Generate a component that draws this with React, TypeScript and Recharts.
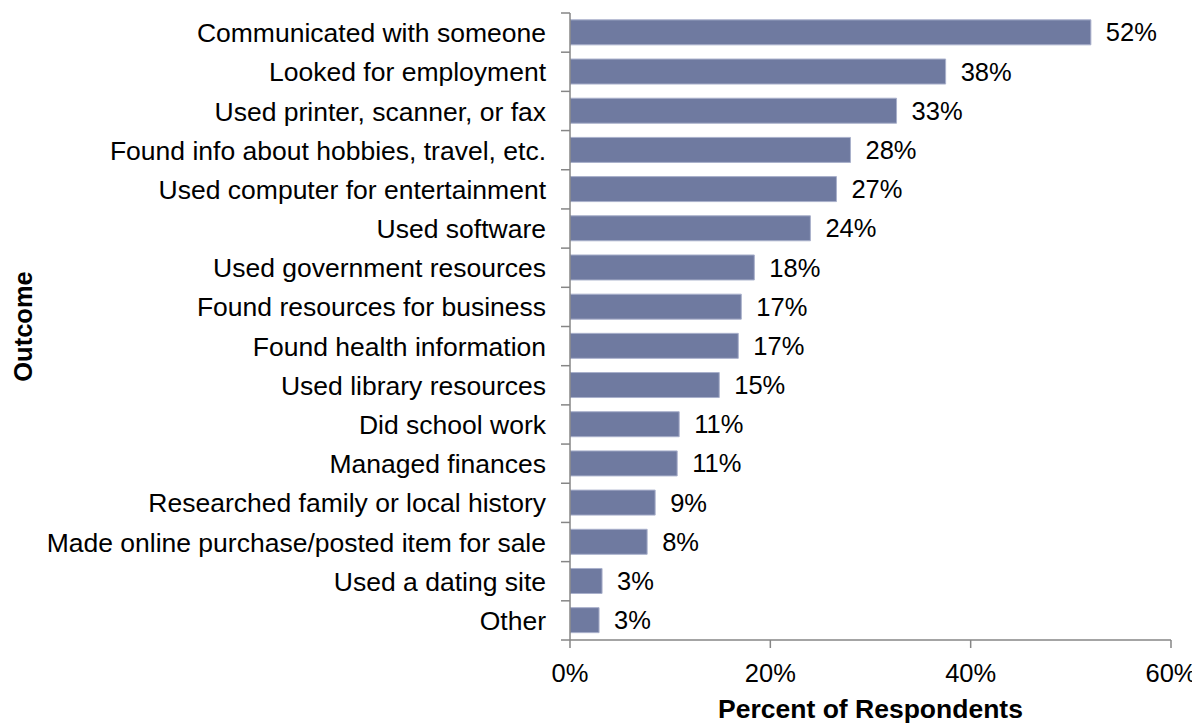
import React from 'react';
import { BarChart, Bar, XAxis, YAxis, LabelList, Label } from 'recharts';

const categories = [
  'Communicated with someone',
  'Looked for employment',
  'Used printer, scanner, or fax',
  'Found info about hobbies, travel, etc.',
  'Used computer for entertainment',
  'Used software',
  'Used government resources',
  'Found resources for business',
  'Found health information',
  'Used library resources',
  'Did school work',
  'Managed finances',
  'Researched family or local history',
  'Made online purchase/posted item for sale',
  'Used a dating site',
  'Other',
];

const percents = [52.0, 37.5, 32.6, 28.0, 26.6, 24.0, 18.4, 17.1, 16.8, 14.9, 10.9, 10.7, 8.5, 7.7, 3.2, 2.9];
const valueLabels = ['52%', '38%', '33%', '28%', '27%', '24%', '18%', '17%', '17%', '15%', '11%', '11%', '9%', '8%', '3%', '3%'];
const xTicks = [0, 20, 40, 60];

const data = categories.map((name, i) => ({ name, value: percents[i], label: valueLabels[i] }));

const FONT = '"Liberation Sans", Arial, sans-serif';
const AXIS = '#868686';
const TICK_SIZE = 9;
const TICK_MARGIN = 15;

const CategoryTick = (props: any) => {
  const { x, y, payload, index, visibleTicksCount } = props;
  const half = payload.offset || 0;
  const lx1 = x + TICK_MARGIN;
  const lx2 = x + TICK_MARGIN + TICK_SIZE;
  return (
    <g>
      <line x1={lx1} x2={lx2} y1={y - half} y2={y - half} stroke={AXIS} strokeWidth={1.5} />
      {index === visibleTicksCount - 1 && (
        <line x1={lx1} x2={lx2} y1={y + half} y2={y + half} stroke={AXIS} strokeWidth={1.5} />
      )}
      <text x={x} y={y} dy="0.36em" textAnchor="end" fill="#000" fontSize={26.5} fontFamily={FONT}>
        {payload.value}
      </text>
    </g>
  );
};

export default function App() {
  return (
    <div style={{ width: 1192, height: 717, background: '#fff' }}>
      <BarChart
        width={1192}
        height={717}
        data={data}
        layout="vertical"
        margin={{ top: 5, right: 29, bottom: 0, left: 0 }}
        barCategoryGap="17.5%"
      >
        <XAxis
          type="number"
          domain={[0, 60]}
          ticks={xTicks}
          tickFormatter={(v: number) => `${v}%`}
          allowDataOverflow
          stroke={AXIS}
          strokeWidth={1.5}
          tickSize={8}
          tickMargin={16}
          height={85}
          tick={{ fill: '#000', fontSize: 25.5, fontFamily: FONT }}
        >
          <Label
            content={(p: any) => {
              const vb = p.viewBox;
              return (
                <text
                  x={vb.x + vb.width / 2}
                  y={vb.y + 78}
                  textAnchor="middle"
                  fontSize={26.5}
                  fontWeight="bold"
                  fontFamily={FONT}
                  fill="#000"
                >
                  Percent of Respondents
                </text>
              );
            }}
          />
        </XAxis>
        <YAxis
          type="category"
          dataKey="name"
          width={562}
          stroke={AXIS}
          strokeWidth={1.5}
          tickLine={false}
          tickSize={TICK_SIZE}
          tickMargin={TICK_MARGIN}
          interval={0}
          tick={<CategoryTick />}
        >
          <Label
            content={(p: any) => {
              const vb = p.viewBox;
              const cx = 14.5;
              const cy = vb.y + vb.height / 2;
              return (
                <text
                  x={cx}
                  y={cy}
                  transform={`rotate(-90 ${cx} ${cy})`}
                  textAnchor="middle"
                  dominantBaseline="central"
                  fontSize={25.5}
                  fontWeight="bold"
                  fontFamily={FONT}
                  fill="#000"
                >
                  Outcome
                </text>
              );
            }}
          />
        </YAxis>
        <Bar dataKey="value" fill="#6F7AA0" stroke="#A9B0CB" strokeWidth={1} isAnimationActive={false}>
          <LabelList
            dataKey="label"
            position="right"
            offset={15}
            fill="#000"
            fontSize={25.5}
            fontFamily={FONT}
          />
        </Bar>
      </BarChart>
    </div>
  );
}
